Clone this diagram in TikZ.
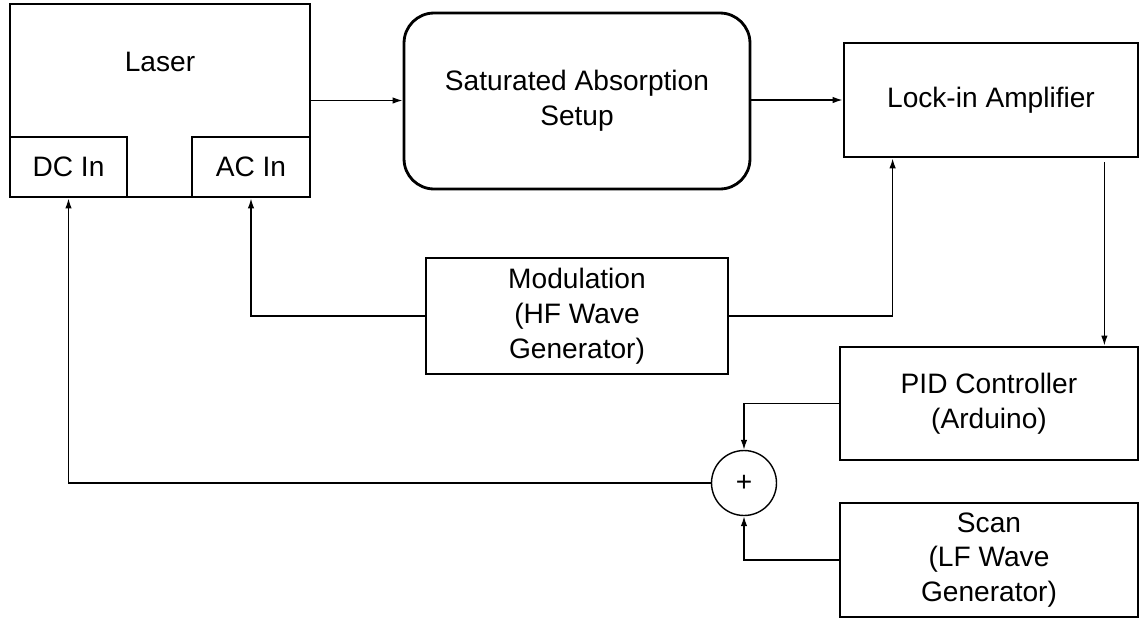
\documentclass[tikz,border=0pt]{standalone}
\usepackage{fontspec}
\setmainfont{Liberation Sans}
\usetikzlibrary{arrows.meta}
\begin{document}
\begin{tikzpicture}[x=0.02cm,y=-0.02cm,
  box/.style={draw, line width=1.6pt, rectangle, inner sep=0pt, align=center,
    font=\fontsize{16}{19.8}\selectfont},
  lbl/.style={inner sep=0pt, font=\fontsize{16}{19.8}\selectfont},
  conn/.style={line width=0.8pt},
  arr/.style={conn, -{Latex[length=2mm,width=1.3mm]}}]
\useasboundingbox (0,0) rectangle (1140,619);
% blocks
\node[box, minimum width=6cm, minimum height=3.86cm] (laser) at (160,100.5) {};
\node[lbl] (laserlbl) at (160,62) {Laser};
\node[box, minimum width=2.34cm, minimum height=1.2cm] (dcin) at (68.5,167) {DC In};
\node[box, minimum width=2.36cm, minimum height=1.2cm] (acin) at (251,167) {AC In};
\node[box, rounded corners=0.6cm, minimum width=6.92cm, minimum height=3.52cm] (sas) at (577,101) {Saturated Absorption\\Setup};
\node[box, minimum width=5.88cm, minimum height=2.28cm] (lockin) at (991,100) {Lock-in Amplifier};
\node[box, minimum width=6.04cm, minimum height=2.32cm] (mod) at (577,316) {Modulation\\(HF Wave\\Generator)};
\node[box, minimum width=5.96cm, minimum height=2.26cm] (pid) at (989,403.5) {PID Controller\\(Arduino)};
\node[box, minimum width=5.96cm, minimum height=2.28cm] (scan) at (989,560) {Scan\\(LF Wave\\Generator)};
\node[draw, circle, line width=0.8pt, minimum size=1.3cm, inner sep=0pt,
  font=\fontsize{16}{19.8}\selectfont] (sum) at (744,483) {+};
% connectors
\draw[arr] (laser.east) -- (laser.east -| sas.west);
\draw[arr] (lockin.west -| sas.east) -- (lockin.west);
\draw[arr] ([xshift=-0.7cm,yshift=-0.08cm]lockin.south east) -- ([xshift=-0.7cm]lockin.south east |- pid.north);
\draw[arr] (mod.east) -| ([xshift=1cm]lockin.south west);
\draw[arr] (mod.west) -| (acin.south);
\draw[arr] (pid.west) -| (sum.north);
\draw[arr] (scan.west) -| (sum.south);
\draw[arr] (sum.west) -| (dcin.south);
\end{tikzpicture}
\end{document}
